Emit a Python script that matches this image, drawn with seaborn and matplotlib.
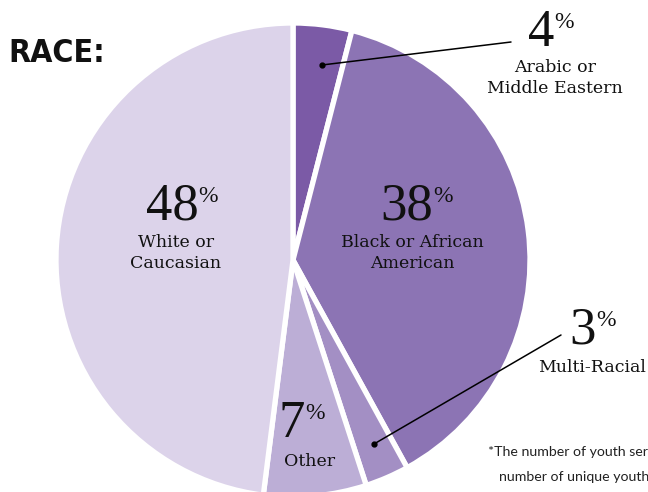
import matplotlib

matplotlib.use("Agg")

import matplotlib.pyplot as plt
import seaborn as sns

sns.set_theme(style="white")

# data
groups = ["Arabic or\nMiddle Eastern", "Black or African\nAmerican", "Multi-Racial", "Other", "White or\nCaucasian"]
shares = [4, 38, 3, 7, 48]
colors = ["#7b5aa6", "#8c74b4", "#a38fc4", "#bcaed6", "#dcd3ea"]
footnote = ["*The number of youth ser", "number of unique youth", "participate in multiple"]

W, H = 648, 492
DIGITS = ["Liberation Serif", "DejaVu Serif"]
LABELS = ["DejaVu Serif"]

fig = plt.figure(figsize=(W / 100, H / 100), dpi=100)
ax = fig.add_axes([0, 0, 1, 1])

# pie drawn in pixel space (y flipped so that y=0 is the bottom)
cx, cy, r = 293, H - 260, 237
ax.pie(
    shares,
    colors=colors,
    startangle=90,
    counterclock=False,
    center=(cx, cy),
    radius=r,
    wedgeprops={"edgecolor": "white", "linewidth": 3.8},
)
ax.set_xlim(0, W)
ax.set_ylim(0, H)
ax.axis("off")


def px(x, y):
    return x, H - y


def pct(value, x, y, label, lx, ly):
    # big number, small superscript % and the group label underneath
    t = ax.text(*px(x, y), str(value), fontsize=38, family=DIGITS, ha="center", va="center", color="#111111")
    fig.canvas.draw()
    bb = t.get_window_extent().transformed(ax.transData.inverted())
    ax.text(bb.x1, bb.y1 - 3, "%", fontsize=17, family=DIGITS, ha="left", va="top", color="#111111")
    ax.text(*px(lx, ly), label, fontsize=12.5, family=LABELS, ha="center", va="center",
            linespacing=1.3, color="#111111")


pct(shares[0], 541, 33, groups[0], 555, 78)
pct(shares[1], 407, 207, groups[1], 412, 253)
pct(shares[2], 583, 331, groups[2], 592, 367)
pct(shares[3], 292, 424, groups[3], 310, 461)
pct(shares[4], 172, 207, groups[4], 176, 253)

# leader lines to the two thin slices
for (x0, y0), (x1, y1) in [((322, 65), (511, 42)), ((374, 444), (561, 335))]:
    ax.plot([px(x0, y0)[0], px(x1, y1)[0]], [px(x0, y0)[1], px(x1, y1)[1]], color="black", lw=1.1)
    ax.plot(*px(x0, y0), "o", color="black", ms=3.5)

ax.text(*px(8, 54), "RACE:", fontsize=23, fontweight="bold", fontstretch="condensed",
        family=["DejaVu Sans"], ha="left", va="center", color="#111111")

for (x, y), line in zip([(488, 452), (499, 477), (510, 501)], footnote):
    ax.text(*px(x, y), line, fontsize=10.2, family=["Lato", "DejaVu Sans"], ha="left", va="center",
            color="#222222")

fig.savefig("out.png", dpi=100)
